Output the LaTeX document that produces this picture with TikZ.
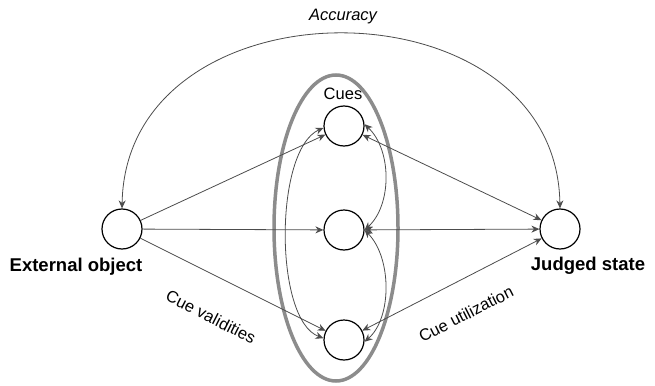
\documentclass[tikz,border=0pt]{standalone}
\usepackage{fontspec}
\setmainfont{Liberation Sans}
\usetikzlibrary{arrows.meta}
\begin{document}
\begin{tikzpicture}[x=1pt,y=-1pt,
  circ/.style={circle,draw=black,line width=1.2pt,minimum size=40pt,inner sep=0pt},
  conn/.style={draw=black!70,line width=0.8pt},
  tip/.style={-{Stealth[length=8pt,width=7pt]}},
  tips/.style={{Stealth[length=8pt,width=7pt]}-{Stealth[length=8pt,width=7pt]}},
  lbl/.style={font=\fontsize{16.5}{19}\selectfont},
  blbl/.style={font=\fontsize{18.5}{21}\selectfont\bfseries}]
\useasboundingbox (0,0) rectangle (655,385);
% lens ellipse
\draw[draw=black!45,line width=3.5pt] (336,228) ellipse [x radius=62pt, y radius=153pt];
% nodes
\node[circ] (ext) at (122,229) {};
\node[circ] (jud) at (560,229) {};
\node[circ] (c1) at (344,126) {};
\node[circ] (c2) at (344,230) {};
\node[circ] (c3) at (344,340) {};
% labels
\node[blbl] (lext) at (76,267) {External object};
\node[blbl] (ljud) at (588,266) {Judged state};
\node[lbl] (lcues) at (343,94) {Cues};
\node[lbl,font=\fontsize{16.5}{19}\selectfont\itshape] (lacc) at (343,17) {Accuracy};
\node[lbl,rotate=-27] (lval) at (211,317) {Cue validities};
\node[lbl,rotate=27] (luti) at (466,314) {Cue utilization};
% connectors from external object
\draw[conn,tip] (ext) -- (c1);
\draw[conn,tip] (ext) -- (c2);
\draw[conn,tip] (ext) -- (c3);
% connectors to judged state
\draw[conn,tips] (c1) -- (jud);
\draw[conn,tips] (c2) -- (jud);
\draw[conn,tips] (c3) -- (jud);
% accuracy arc
\draw[conn,tips] (ext.north) .. controls (126,-24) and (556,-24) .. (jud.north);
% inter-cue arcs
\draw[conn,tips] (c1.5) .. controls (392,150) and (392,205) .. (c2.east);
\draw[conn,tips] (c2.east) .. controls (392,258) and (392,318) .. (c3.-5);
\draw[conn,tips] (c1.185) .. controls (274,150) and (274,320) .. (c3.175);
\end{tikzpicture}
\end{document}
